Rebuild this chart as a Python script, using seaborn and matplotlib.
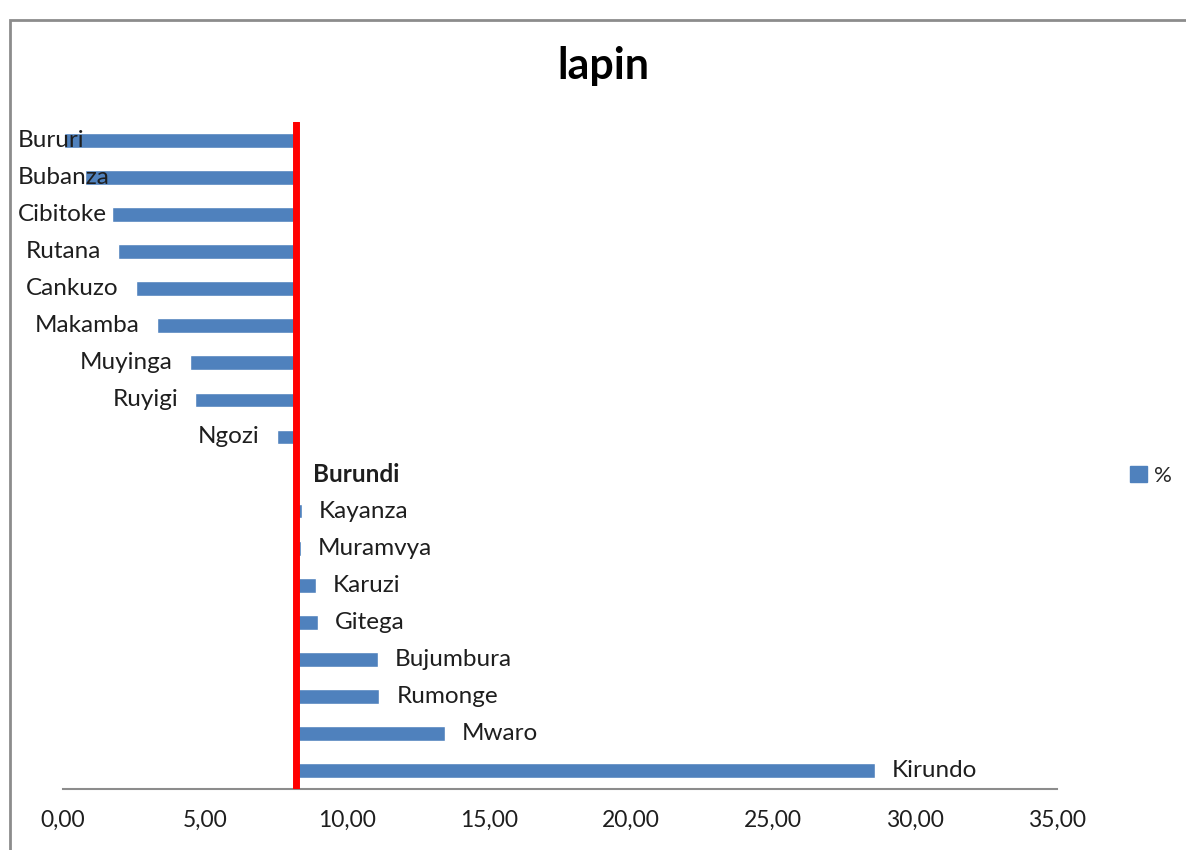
import numpy as np
import pandas as pd
import matplotlib
matplotlib.use("Agg")
import matplotlib.pyplot as plt
import matplotlib.patches as mpatches
import seaborn as sns

# donnees
provinces = ["Bururi", "Bubanza", "Cibitoke", "Rutana", "Cankuzo", "Makamba",
             "Muyinga", "Ruyigi", "Ngozi", "Burundi", "Kayanza", "Muramvya",
             "Karuzi", "Gitega", "Bujumbura", "Rumonge", "Mwaro", "Kirundo"]
pourcent = [0.02, 0.77, 1.71, 1.95, 2.57, 3.30, 4.47, 4.65, 7.52, 8.19,
            8.40, 8.38, 8.90, 8.99, 11.10, 11.14, 13.45, 28.59]
valeur_burundi = 8.19
graduations = [0, 5, 10, 15, 20, 25, 30, 35]

sns.set_style("white")
plt.rcParams["font.family"] = ["Lato", "DejaVu Sans"]

BLEU = "#4F81BD"
ROUGE = "#FF0000"
GRIS = "#8C8C8C"
TEXTE = "#1E1E1E"

df = pd.DataFrame({"province": provinces, "pct": pourcent})
# l'axe vertical croise a la valeur nationale (comme dans Excel)
df["ecart"] = df["pct"] - valeur_burundi

fig = plt.figure(figsize=(11.86, 8.5), dpi=100)
ax = fig.add_axes([63 / 1186, 1 - 789 / 850, (1057 - 63) / 1186, (789 - 122) / 850])

sns.barplot(data=df, y="province", x="ecart", orient="h", color=BLEU,
            saturation=1, width=0.4, ax=ax)

ax.set_xlim(graduations[0] - valeur_burundi, graduations[-1] - valeur_burundi)
ax.set_ylim(len(provinces) - 0.5, -0.5)
ax.set_xticks([g - valeur_burundi for g in graduations])
ax.set_xticklabels([f"{g:.2f}".replace(".", ",") for g in graduations], fontsize=16.5)
ax.set_yticks([])
ax.set_xlabel("")
ax.set_ylabel("")

for s in ["top", "right", "left"]:
    ax.spines[s].set_visible(False)
ax.spines["bottom"].set_color(GRIS)
ax.spines["bottom"].set_linewidth(1.5)
ax.tick_params(axis="x", direction="out", length=6, width=1.2, color=GRIS,
               pad=9, labelcolor=TEXTE)

# axe vertical rouge
ax.axvline(0, color=ROUGE, lw=5, zorder=5)

# etiquettes des provinces
etiquettes = []
for i, (nom, e) in enumerate(zip(df["province"], df["ecart"])):
    gras = "bold" if nom == "Burundi" else "normal"
    if e < 0:
        t = ax.annotate(nom, xy=(e, i), xytext=(-17, 0), textcoords="offset pixels",
                        ha="right", va="center", fontsize=17.5, color=TEXTE,
                        weight=gras, zorder=6)
    else:
        t = ax.annotate(nom, xy=(e, i), xytext=(17, 0), textcoords="offset pixels",
                        ha="left", va="center", fontsize=17.5, color=TEXTE,
                        weight=gras, zorder=6)
    etiquettes.append((t, e, i))

# les etiquettes ne sortent pas du cadre a gauche
fig.canvas.draw()
renderer = fig.canvas.get_renderer()
for t, e, i in etiquettes:
    bb = t.get_window_extent(renderer)
    if bb.x0 < 18:
        px = ax.transData.transform((e, i))[0]
        t.set_ha("left")
        t.xyann = (18 - px, 0)

# legende
fig.legend(handles=[mpatches.Patch(color=BLEU, label="%")],
           loc="center left", bbox_to_anchor=(1110 / 1186, 1 - 476 / 850),
           frameon=False, fontsize=16, handlelength=0.75, handleheight=0.75,
           handletextpad=0.35)

fig.text(603 / 1186, 1 - 66 / 850, "lapin", ha="center", va="center",
         fontsize=31, weight="bold", color="black")

# cadre du graphique
cadre = mpatches.Rectangle((10 / 1186, -0.1), 1.2, 0.1 + (850 - 20) / 850,
                           transform=fig.transFigure, fill=False,
                           edgecolor=GRIS, lw=2)
fig.patches.append(cadre)

fig.savefig("out.png", dpi=100)
